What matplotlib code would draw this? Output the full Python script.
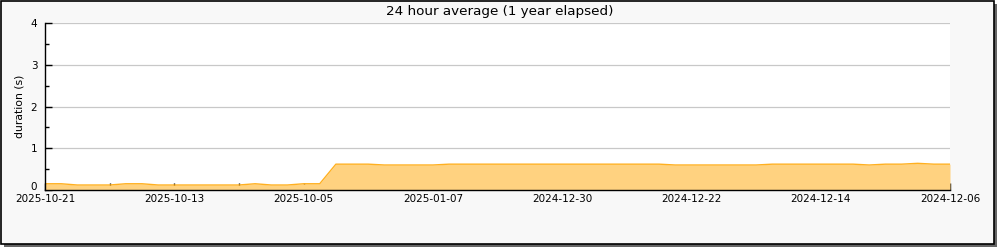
import matplotlib
matplotlib.use("Agg")
import matplotlib.pyplot as plt
from matplotlib.patches import Rectangle
from matplotlib.ticker import MultipleLocator
import numpy as np

# ---- data ----
values = [0.15, 0.15, 0.12, 0.12, 0.12, 0.15, 0.15,
          0.12, 0.12, 0.12, 0.12, 0.12, 0.12,
          0.15, 0.12, 0.12, 0.15, 0.15,
          0.62, 0.62, 0.62,
          0.60, 0.60, 0.60, 0.60,
          0.62, 0.62, 0.62, 0.62, 0.62, 0.62, 0.62, 0.62, 0.62, 0.62, 0.62, 0.62, 0.62, 0.62,
          0.60, 0.60, 0.60, 0.60, 0.60, 0.60,
          0.62, 0.62, 0.62, 0.62, 0.62, 0.62,
          0.60, 0.62, 0.62, 0.64, 0.62, 0.62]
tick_labels = ["2025-10-21", "2025-10-13", "2025-10-05", "2025-01-07",
               "2024-12-30", "2024-12-22", "2024-12-14", "2024-12-06"]
title = "24 hour average (1 year elapsed)"
ylabel = "duration (s)"

x = np.arange(len(values))

fig = plt.figure(figsize=(10, 2.5), dpi=100)
fig.patch.set_facecolor("white")

# frame with shadow
shadow = Rectangle((0.004, 0.012), 0.993, 0.972, transform=fig.transFigure,
                   facecolor="#666666", edgecolor="none", zorder=-3)
frame = Rectangle((0.0005, 0.026), 0.993, 0.972, transform=fig.transFigure,
                  facecolor="#f8f8f8", edgecolor="black", linewidth=1.2, zorder=-2)
fig.patches.extend([shadow, frame])

ax = fig.add_axes([0.045, 0.24, 0.905, 0.6668])
ax.set_facecolor("white")
ax.fill_between(x, values, 0, color="#ffd280", linewidth=0, zorder=2)
ax.plot(x, values, color="#ffb020", linewidth=1.0, zorder=3)

ax.set_xlim(0, len(values) - 1)
ax.set_ylim(0, 4)

ax.set_yticks([0, 1, 2, 3, 4])
ax.yaxis.set_minor_locator(MultipleLocator(0.5))
ax.grid(axis="y", which="major", color="#c8c8c8", linewidth=0.9, zorder=0)
ax.set_axisbelow(True)

xt = list(range(0, len(values), 4))
ax.set_xticks(xt)
labs = []
k = 0
for i, t in enumerate(xt):
    if i % 2 == 0:
        labs.append(tick_labels[k]); k += 1
    else:
        labs.append("")
ax.set_xticklabels(labs)

ax.tick_params(axis="x", which="major", direction="in", length=5, width=1,
               labelsize=7.5, pad=3, colors="black")
ax.tick_params(axis="y", which="major", direction="in", length=5, width=1,
               labelsize=7.5, pad=5.5)
ax.tick_params(axis="y", which="minor", direction="in", length=3, width=1)
ax.get_yticklabels()[0].set_verticalalignment("baseline")

for s in ["top", "right"]:
    ax.spines[s].set_visible(False)
for s in ["left", "bottom"]:
    ax.spines[s].set_linewidth(1)
    ax.spines[s].set_color("black")
    ax.spines[s].set_zorder(5)

fig.text(0.5, 0.952, title, ha="center", va="center", fontsize=9.7)
fig.text(0.019, 0.574, ylabel, ha="center", va="center", rotation=90, fontsize=7.8)

fig.savefig("out.png", dpi=100, facecolor=fig.get_facecolor())
